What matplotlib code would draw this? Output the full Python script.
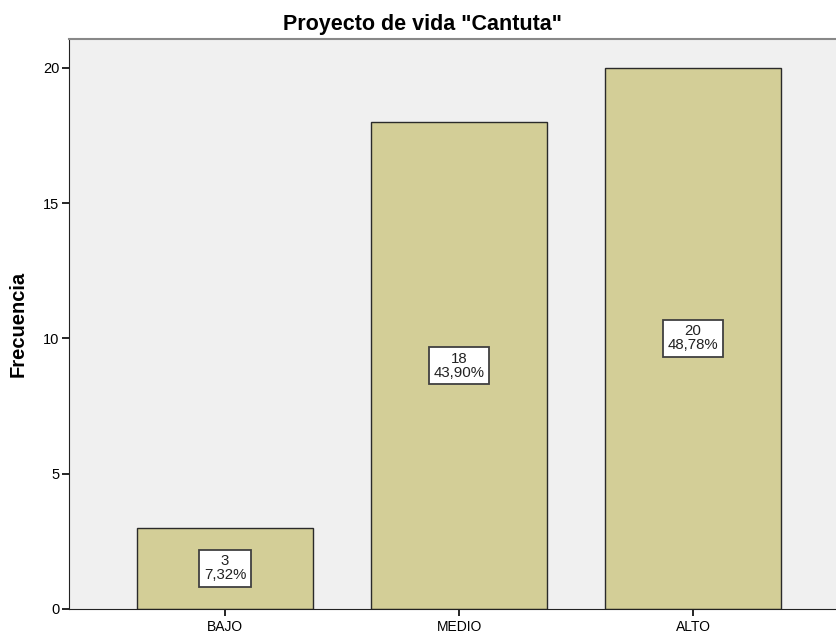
import numpy as np
import matplotlib
matplotlib.use('Agg')
import matplotlib.pyplot as plt

plt.rcParams['font.family'] = ['Liberation Sans', 'DejaVu Sans']

# Data
categorias = ['BAJO', 'MEDIO', 'ALTO']
frecuencias = [3, 18, 20]
porcentajes = ['7,32%', '43,90%', '48,78%']

fig = plt.figure(figsize=(8.37, 6.37), dpi=100)
ax = fig.add_axes([0.0824, 0.044, 0.9176, 0.8948])
ax.set_facecolor('#f0f0f0')

x = np.arange(len(categorias))
ax.bar(x, frecuencias, width=0.75, color='#d3ce97', edgecolor='#2a2a2a',
       linewidth=1.0, zorder=2)

# count and percentage box in the middle of each bar
for xi, f, p in zip(x, frecuencias, porcentajes):
    ax.text(xi, f / 2.0, '%d\n%s' % (f, p), ha='center', va='center',
            fontsize=10.8, linespacing=1.0, color='#222222', zorder=3,
            bbox=dict(boxstyle='square,pad=0.3', facecolor='white',
                      edgecolor='#404040', linewidth=1.3))

ax.set_xlim(-0.667, 2.615)
ax.set_ylim(0, 21.07)
ax.set_xticks(x)
ax.set_xticklabels(categorias, fontsize=10)
ax.set_yticks([0, 5, 10, 15, 20])
ax.tick_params(axis='y', labelsize=10.5, length=5, width=1.2, pad=2)
ax.tick_params(axis='x', length=5, width=1.2, pad=3)

ax.spines['right'].set_visible(False)
ax.spines['top'].set_color('#888888')
ax.spines['top'].set_linewidth(1.5)
ax.spines['left'].set_color('#222222')
ax.spines['bottom'].set_color('#222222')

fig.suptitle('Proyecto de vida "Cantuta"', x=0.505, y=0.978, va='top',
             fontsize=15.5, fontweight='bold')
ax.set_ylabel('Frecuencia', fontsize=14.5, fontweight='bold', labelpad=11)

plt.savefig('out.png', dpi=100)
